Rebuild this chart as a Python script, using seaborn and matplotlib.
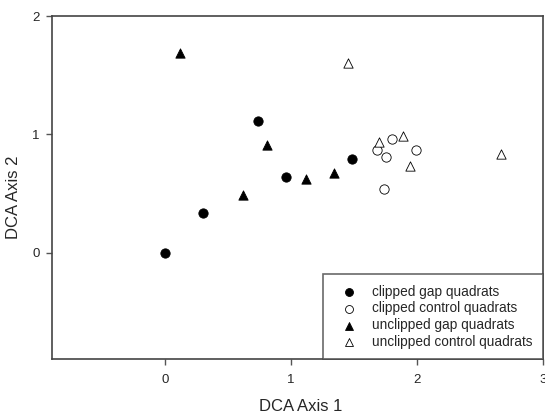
import matplotlib
matplotlib.use("Agg")
import matplotlib.pyplot as plt
import seaborn as sns
import pandas as pd

# Data
cg_x = [0.00, 0.30, 0.74, 0.96, 1.48]
cg_y = [0.00, 0.335, 1.11, 0.64, 0.79]
cc_x = [1.80, 1.685, 1.75, 1.995, 1.74]
cc_y = [0.96, 0.87, 0.81, 0.867, 0.54]
ug_x = [0.12, 0.62, 0.81, 1.12, 1.34]
ug_y = [1.69, 0.49, 0.91, 0.62, 0.675]
uc_x = [1.45, 1.70, 1.89, 1.94, 2.67]
uc_y = [1.60, 0.935, 0.985, 0.735, 0.835]
labels = ["clipped gap quadrats", "clipped control quadrats",
          "unclipped gap quadrats", "unclipped control quadrats"]
x_ticks = [0, 1, 2, 3]
y_ticks = [0, 1, 2]

sns.set_style("white")
plt.rcParams['font.family'] = ['Liberation Sans', 'DejaVu Sans']

fig = plt.figure(figsize=(5.45, 4.16), dpi=100)
ax = fig.add_axes([0.0954, 0.137, 0.9009, 0.8245])

groups = [
    (cg_x, cg_y, labels[0], 'o', 'black', 45),
    (cc_x, cc_y, labels[1], 'o', 'white', 45),
    (ug_x, ug_y, labels[2], '^', 'black', 45),
    (uc_x, uc_y, labels[3], '^', 'white', 45),
]
for xs, ys, lab, mk, fc, s in groups:
    df = pd.DataFrame({"x": xs, "y": ys})
    sns.scatterplot(data=df, x="x", y="y", marker=mk, color=fc,
                    edgecolor='black', linewidth=0.6, s=s, label=lab, ax=ax)

ax.set_xlim(-0.9, 3)
ax.set_ylim(-0.9, 2)
ax.set_xticks(x_ticks)
ax.set_yticks(y_ticks)
ax.set_xlabel("DCA Axis 1", fontsize=12)
ax.set_ylabel("DCA Axis 2", fontsize=12)
ax.xaxis.set_label_coords(0.507, -0.117)
ax.yaxis.set_label_coords(-0.063, 0.473)
ax.tick_params(axis='both', labelsize=9.5, direction='out', length=4,
               width=1, color='#555555', left=True, bottom=True)
ax.tick_params(axis='x', pad=7)
ax.tick_params(axis='y', pad=5)
for sp in ax.spines.values():
    sp.set_color('#444444')
    sp.set_linewidth(1.2)

leg = ax.legend(loc='lower right', borderaxespad=0, fontsize=9.8,
                frameon=True, fancybox=False, markerscale=0.85,
                handletextpad=0.5, labelspacing=0.2, borderpad=0.75,
                handlelength=2.35)
leg.get_frame().set_edgecolor('#444444')
leg.get_frame().set_linewidth(1.2)

fig.savefig("out.png", dpi=100)
